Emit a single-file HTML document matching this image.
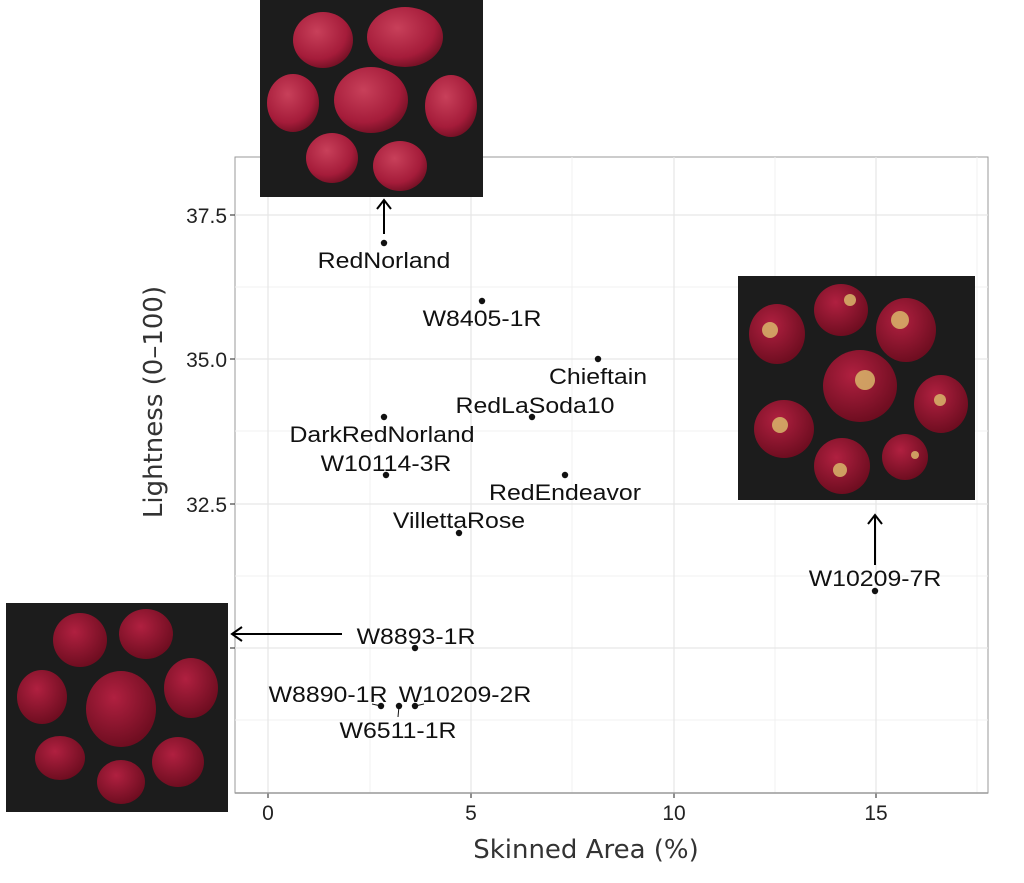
<!DOCTYPE html>
<html><head><style>body{margin:0;background:#fff}svg{display:block}</style></head><body>
<svg width="1024" height="883" xmlns="http://www.w3.org/2000/svg" font-family="Liberation Sans, sans-serif">
<defs>
<radialGradient id="p" cx="40%" cy="35%" r="70%"><stop offset="0" stop-color="#c8405a"/><stop offset="0.7" stop-color="#a51c3a"/><stop offset="1" stop-color="#6e0f22"/></radialGradient>
<radialGradient id="q" cx="40%" cy="35%" r="70%"><stop offset="0" stop-color="#b02040"/><stop offset="1" stop-color="#6a0c1e"/></radialGradient>
</defs>
<rect x="235" y="157" width="753" height="636" fill="#fff" stroke="#999" stroke-width="1"/>
<g stroke="#f0f0f0" stroke-width="1">
<line x1="370" y1="157" x2="370" y2="793"/><line x1="572" y1="157" x2="572" y2="793"/><line x1="775" y1="157" x2="775" y2="793"/><line x1="977" y1="157" x2="977" y2="793"/>
<line x1="235" y1="287" x2="988" y2="287"/><line x1="235" y1="431" x2="988" y2="431"/><line x1="235" y1="576" x2="988" y2="576"/><line x1="235" y1="720" x2="988" y2="720"/>
</g>
<g stroke="#e6e6e6" stroke-width="1.2">
<line x1="268" y1="157" x2="268" y2="793"/><line x1="471" y1="157" x2="471" y2="793"/><line x1="674" y1="157" x2="674" y2="793"/><line x1="876" y1="157" x2="876" y2="793"/>
<line x1="235" y1="215" x2="988" y2="215"/><line x1="235" y1="359" x2="988" y2="359"/><line x1="235" y1="504" x2="988" y2="504"/><line x1="235" y1="648" x2="988" y2="648"/>
</g>
<g stroke="#444" stroke-width="1.2">
<line x1="230" y1="215" x2="235" y2="215"/><line x1="230" y1="359" x2="235" y2="359"/><line x1="230" y1="504" x2="235" y2="504"/><line x1="230" y1="648" x2="235" y2="648"/>
<line x1="268" y1="793" x2="268" y2="798"/><line x1="471" y1="793" x2="471" y2="798"/><line x1="674" y1="793" x2="674" y2="798"/><line x1="876" y1="793" x2="876" y2="798"/>
</g>
<g font-size="21" fill="#222" text-anchor="end">
<text x="227" y="223">37.5</text><text x="227" y="367">35.0</text><text x="227" y="512">32.5</text>
</g>
<g font-size="21" fill="#222" text-anchor="middle">
<text x="268" y="820">0</text><text x="471" y="820">5</text><text x="674" y="820">10</text><text x="876" y="820">15</text>
</g>
<text x="586" y="858" font-size="26" fill="#333" text-anchor="middle" font-family="DejaVu Sans, sans-serif">Skinned Area (%)</text>
<text transform="translate(162,402) rotate(-90)" font-size="26" fill="#333" text-anchor="middle" font-family="DejaVu Sans, sans-serif">Lightness (0–100)</text>
<g fill="#111">
<circle cx="384" cy="243" r="3.2"/><circle cx="482" cy="301" r="3.2"/><circle cx="598" cy="359" r="3.2"/><circle cx="532" cy="417" r="3.2"/>
<circle cx="384" cy="417" r="3.2"/><circle cx="386" cy="475" r="3.2"/><circle cx="565" cy="475" r="3.2"/><circle cx="459" cy="533" r="3.2"/>
<circle cx="875" cy="591" r="3.2"/><circle cx="415" cy="648" r="3.2"/><circle cx="381" cy="706" r="3.2"/><circle cx="399" cy="706" r="3.2"/><circle cx="415" cy="706" r="3.2"/>
</g>
<g stroke="#111" stroke-width="1"><line x1="372" y1="704" x2="381" y2="706"/><line x1="399" y1="706" x2="398" y2="717"/><line x1="415" y1="706" x2="424" y2="704"/></g>
<g font-size="22" fill="#111" text-anchor="middle">
<text transform="translate(384,268) scale(1.13,1)">RedNorland</text>
<text transform="translate(482,326) scale(1.13,1)">W8405-1R</text>
<text transform="translate(598,384) scale(1.13,1)">Chieftain</text>
<text transform="translate(535,413) scale(1.13,1)">RedLaSoda10</text>
<text transform="translate(382,442) scale(1.13,1)">DarkRedNorland</text>
<text transform="translate(386,471) scale(1.13,1)">W10114-3R</text>
<text transform="translate(565,500) scale(1.13,1)">RedEndeavor</text>
<text transform="translate(459,528) scale(1.13,1)">VillettaRose</text>
<text transform="translate(875,586) scale(1.13,1)">W10209-7R</text>
<text transform="translate(416,644) scale(1.13,1)">W8893-1R</text>
<text transform="translate(328,702) scale(1.13,1)">W8890-1R</text>
<text transform="translate(465,702) scale(1.13,1)">W10209-2R</text>
<text transform="translate(398,738) scale(1.13,1)">W6511-1R</text>
</g>
<g stroke="#000" stroke-width="2" fill="none">
<line x1="384" y1="234" x2="384" y2="200"/><polyline points="377,209 384,200 391,209"/>
<line x1="875" y1="565" x2="875" y2="515"/><polyline points="868,524 875,515 882,524"/>
<line x1="342" y1="634" x2="232" y2="634"/><polyline points="242,627 232,634 242,641"/>
</g>
<rect x="260" y="0" width="223" height="197" fill="#1c1c1c"/>
<g fill="url(#p)">
<ellipse cx="323" cy="40" rx="30" ry="28"/><ellipse cx="405" cy="37" rx="38" ry="30"/><ellipse cx="293" cy="103" rx="26" ry="29"/>
<ellipse cx="371" cy="100" rx="37" ry="33"/><ellipse cx="451" cy="106" rx="26" ry="31"/><ellipse cx="332" cy="158" rx="26" ry="25"/><ellipse cx="400" cy="166" rx="27" ry="25"/>
</g>
<rect x="738" y="276" width="237" height="224" fill="#1c1c1c"/>
<g fill="url(#q)">
<ellipse cx="777" cy="334" rx="28" ry="30"/><ellipse cx="841" cy="310" rx="27" ry="26"/><ellipse cx="906" cy="330" rx="30" ry="32"/>
<ellipse cx="860" cy="386" rx="37" ry="36"/><ellipse cx="941" cy="404" rx="27" ry="29"/><ellipse cx="784" cy="429" rx="30" ry="29"/><ellipse cx="842" cy="466" rx="28" ry="28"/><ellipse cx="905" cy="457" rx="23" ry="23"/>
</g>
<g fill="#d9b66a" opacity="0.85">
<circle cx="770" cy="330" r="8"/><circle cx="850" cy="300" r="6"/><circle cx="900" cy="320" r="9"/><circle cx="865" cy="380" r="10"/><circle cx="940" cy="400" r="6"/><circle cx="780" cy="425" r="8"/><circle cx="840" cy="470" r="7"/><circle cx="915" cy="455" r="4"/>
</g>
<rect x="6" y="603" width="222" height="209" fill="#1c1c1c"/>
<g fill="url(#q)">
<ellipse cx="80" cy="640" rx="27" ry="27"/><ellipse cx="146" cy="634" rx="27" ry="25"/><ellipse cx="42" cy="697" rx="25" ry="27"/>
<ellipse cx="121" cy="709" rx="35" ry="38"/><ellipse cx="191" cy="688" rx="27" ry="30"/><ellipse cx="60" cy="758" rx="25" ry="22"/><ellipse cx="121" cy="782" rx="24" ry="22"/><ellipse cx="178" cy="762" rx="26" ry="25"/>
</g>
<line x1="235" y1="793" x2="988" y2="793" stroke="#999" stroke-width="1.5"/>
</svg>
</body></html>
